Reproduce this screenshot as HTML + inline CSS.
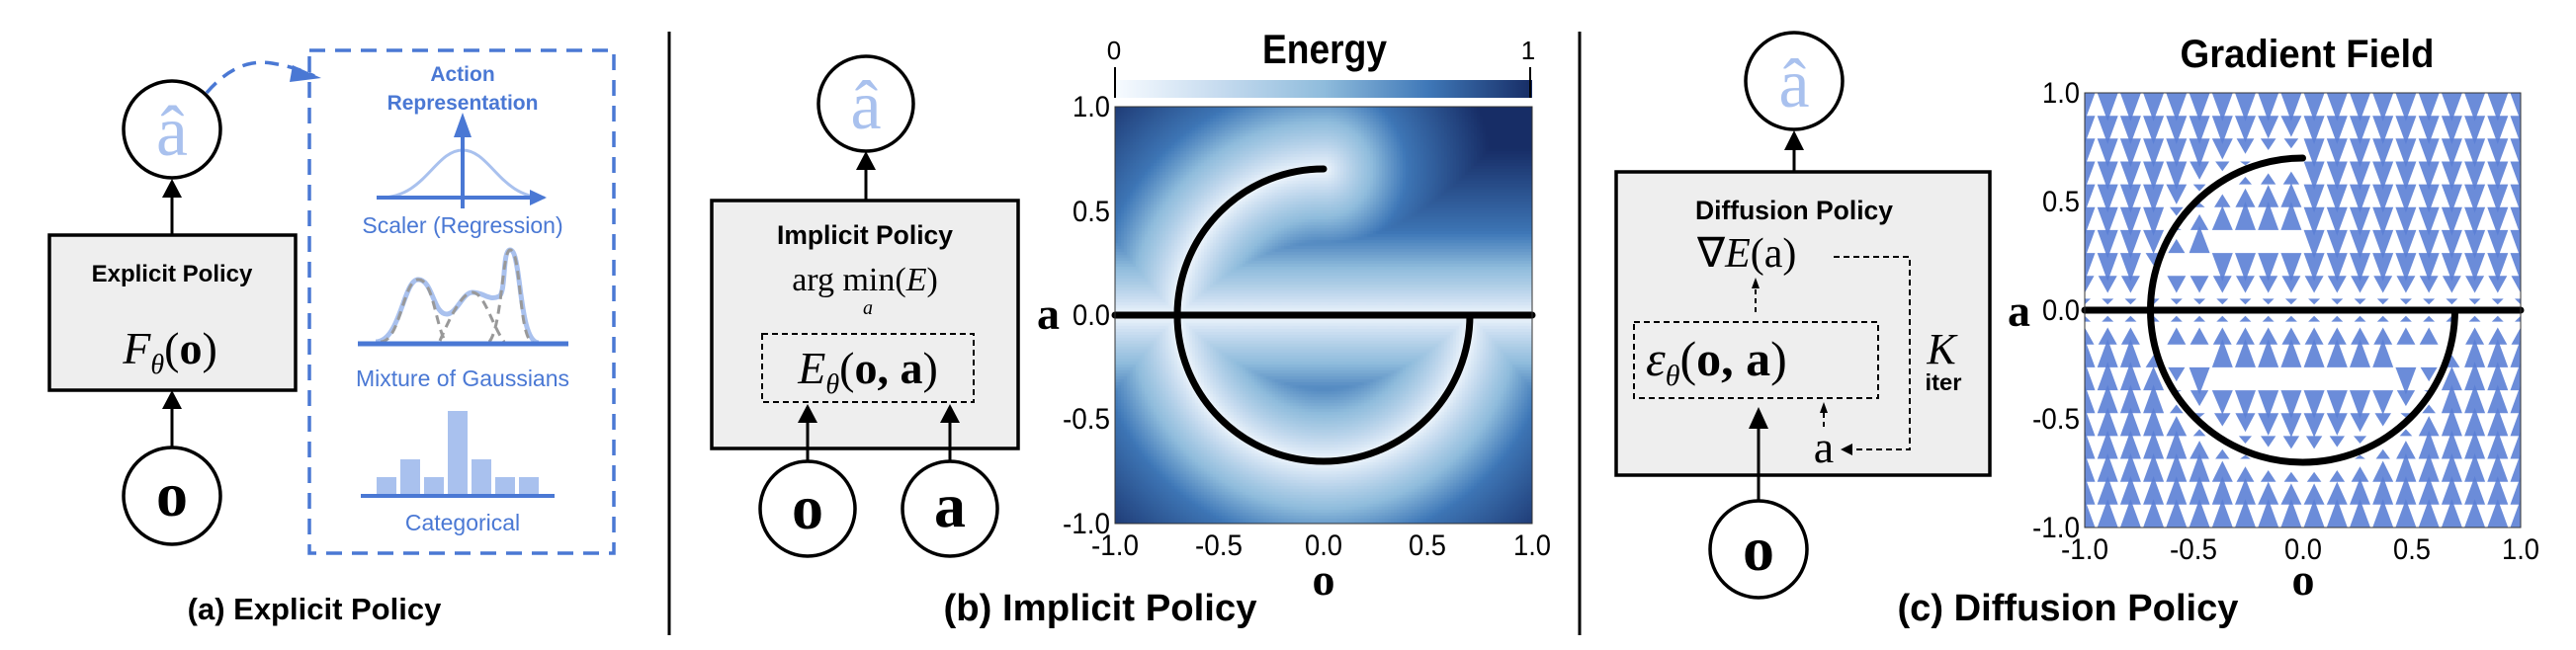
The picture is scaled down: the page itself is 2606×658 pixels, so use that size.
<!DOCTYPE html>
<html><head><meta charset="utf-8"><style>
html,body{margin:0;padding:0;background:#fff;width:2606px;height:658px;overflow:hidden}
#wrap{position:relative;width:2606px;height:658px}
svg{position:absolute;left:0;top:0}
canvas{position:absolute}
.sans{font-family:"Liberation Sans",sans-serif}
.nar{font-family:"Liberation Sans Narrow","Liberation Sans",sans-serif}
.ser{font-family:"Liberation Serif",serif}
</style></head><body><div id="wrap">
<canvas id="hm" width="422" height="422" style="left:1128px;top:108px"></canvas>
<svg id="s" width="2606" height="658" viewBox="0 0 2606 658" xmlns="http://www.w3.org/2000/svg">
<defs>
<linearGradient id="cb" x1="0" x2="1" y1="0" y2="0">
<stop offset="0" stop-color="#f7fbff"/><stop offset="0.25" stop-color="#c6dbef"/><stop offset="0.5" stop-color="#8fbcdc"/><stop offset="0.75" stop-color="#3f78b8"/><stop offset="1" stop-color="#172d66"/>
</linearGradient>
<clipPath id="gc"><rect x="2109" y="94" width="441" height="440"/></clipPath>
</defs>

<line x1="677" y1="32" x2="677" y2="643" stroke="#000" stroke-width="3"/>
<line x1="1598" y1="32" x2="1598" y2="643" stroke="#000" stroke-width="3"/>

<!-- ===== Panel A ===== -->
<circle cx="174" cy="131" r="49" fill="#fff" stroke="#000" stroke-width="3.5"/>
<text x="174" y="157" text-anchor="middle" class="ser" font-size="72" fill="#a9c1ee">â</text>
<rect x="50" y="238" width="249" height="157" fill="#eeeeee" stroke="#000" stroke-width="3.5"/>
<text x="174" y="285" text-anchor="middle" class="sans" font-weight="bold" font-size="24">Explicit Policy</text>
<text x="172" y="368" text-anchor="middle" class="ser" font-size="46"><tspan font-style="italic">F</tspan><tspan font-style="italic" font-size="28" dy="10">θ</tspan><tspan dy="-10">(</tspan><tspan font-weight="bold">o</tspan>)</text>
<line x1="174" y1="238" x2="174" y2="196" stroke="#000" stroke-width="3"/>
<path d="M164,200 L174,181 L184,200z" fill="#000"/>
<line x1="174" y1="452" x2="174" y2="410" stroke="#000" stroke-width="3"/>
<path d="M164,414 L174,395 L184,414z" fill="#000"/>
<circle cx="174" cy="502" r="49" fill="#fff" stroke="#000" stroke-width="3.5"/>
<text x="174" y="522" text-anchor="middle" class="ser" font-weight="bold" font-size="64">o</text>
<rect x="313" y="51" width="308" height="509" fill="none" stroke="#4a78d4" stroke-width="3.5" stroke-dasharray="16,10"/>
<path d="M209,94 Q240,58 275,64 Q300,68 318,77" fill="none" stroke="#4a78d4" stroke-width="3.5" stroke-dasharray="14,9"/>
<path d="M296,66 L325,79 L293,83z" fill="#4a78d4"/>
<text x="468" y="82" text-anchor="middle" class="sans" font-weight="bold" font-size="21" fill="#4a78d4">Action</text>
<text x="468" y="111" text-anchor="middle" class="sans" font-weight="bold" font-size="21" fill="#4a78d4">Representation</text>
<path d="M385,200 C430,200 440,152 468,152 C496,152 506,200 551,200" fill="none" stroke="#a9c1ee" stroke-width="3"/>
<line x1="381" y1="200" x2="540" y2="200" stroke="#4a78d4" stroke-width="4"/>
<path d="M536,192 L553,200 L536,208z" fill="#4a78d4"/>
<line x1="468" y1="211" x2="468" y2="128" stroke="#4a78d4" stroke-width="4"/>
<path d="M459,139 L468,114 L477,139z" fill="#4a78d4"/>
<text x="468" y="236" text-anchor="middle" class="sans" font-size="23" fill="#4a78d4">Scaler (Regression)</text>
<path d="M380,346 C405,346 408,283 423,283 C438,283 438,318 452,318 C462,318 468,296 478,296 C490,296 494,305 505,300 C512,296 508,253 516,253 C528,253 524,346 545,347" fill="none" stroke="#a9c1ee" stroke-width="5"/>
<path d="M385,346 C405,346 408,283 423,283 C438,283 440,325 450,345" fill="none" stroke="#999" stroke-width="3" stroke-dasharray="9,6"/>
<path d="M445,345 C460,310 470,296 478,296 C490,296 498,330 510,346" fill="none" stroke="#999" stroke-width="3" stroke-dasharray="9,6"/>
<path d="M495,346 C508,330 508,253 516,253 C528,253 524,346 540,347" fill="none" stroke="#999" stroke-width="3" stroke-dasharray="9,6"/>
<line x1="362" y1="348" x2="575" y2="348" stroke="#4a78d4" stroke-width="5"/>
<text x="468" y="391" text-anchor="middle" class="sans" font-size="23" fill="#4a78d4">Mixture of Gaussians</text>
<g fill="#a9c1ee">
<rect x="381" y="483" width="20" height="19"/><rect x="405" y="465" width="20" height="37"/><rect x="429" y="483" width="20" height="19"/><rect x="453" y="416" width="20" height="86"/><rect x="477" y="465" width="20" height="37"/><rect x="501" y="483" width="20" height="19"/><rect x="525" y="483" width="20" height="19"/>
</g>
<line x1="365" y1="502" x2="561" y2="502" stroke="#4a78d4" stroke-width="4"/>
<text x="468" y="537" text-anchor="middle" class="sans" font-size="23" fill="#4a78d4">Categorical</text>
<text x="318" y="627" text-anchor="middle" class="sans" font-weight="bold" font-size="31">(a) Explicit Policy</text>

<!-- ===== Panel B ===== -->
<circle cx="876" cy="105" r="48" fill="#fff" stroke="#000" stroke-width="3.5"/>
<text x="876" y="130" text-anchor="middle" class="ser" font-size="70" fill="#a9c1ee">â</text>
<line x1="876" y1="203" x2="876" y2="170" stroke="#000" stroke-width="3"/>
<path d="M866,172 L876,153 L886,172z" fill="#000"/>
<rect x="720" y="203" width="310" height="251" fill="#eeeeee" stroke="#000" stroke-width="3.5"/>
<text x="875" y="247" text-anchor="middle" class="nar" font-weight="bold" font-size="27" data-w="178">Implicit Policy</text>
<text x="875" y="294" text-anchor="middle" class="ser" font-size="34">arg min(<tspan font-style="italic">E</tspan>)</text>
<text x="878" y="318" text-anchor="middle" class="ser" font-style="italic" font-size="20">a</text>
<rect x="771" y="338" width="214" height="69" fill="none" stroke="#000" stroke-width="2" stroke-dasharray="6,4"/>
<text x="878" y="388" text-anchor="middle" class="ser" font-size="46"><tspan font-style="italic">E</tspan><tspan font-style="italic" font-size="28" dy="10">θ</tspan><tspan dy="-10">(</tspan><tspan font-weight="bold">o, a</tspan>)</text>
<line x1="817" y1="466" x2="817" y2="428" stroke="#000" stroke-width="3"/>
<path d="M807,428 L817,409 L827,428z" fill="#000"/>
<line x1="961" y1="466" x2="961" y2="428" stroke="#000" stroke-width="3"/>
<path d="M951,428 L961,409 L971,428z" fill="#000"/>
<circle cx="817" cy="515" r="48" fill="#fff" stroke="#000" stroke-width="3.5"/>
<text x="817" y="535" text-anchor="middle" class="ser" font-weight="bold" font-size="64">o</text>
<circle cx="961" cy="515" r="48" fill="#fff" stroke="#000" stroke-width="3.5"/>
<text x="961" y="533" text-anchor="middle" class="ser" font-weight="bold" font-size="64">a</text>
<rect x="1128" y="81" width="422" height="18" fill="url(#cb)"/>
<line x1="1128" y1="68" x2="1128" y2="99" stroke="#000" stroke-width="2"/>
<line x1="1548" y1="68" x2="1548" y2="99" stroke="#000" stroke-width="2"/>
<text x="1127" y="60" text-anchor="middle" class="nar" font-size="26">0</text>
<text x="1546" y="60" text-anchor="middle" class="nar" font-size="26">1</text>
<text x="1340" y="64" text-anchor="middle" class="nar" font-weight="bold" font-size="42" data-w="126">Energy</text>
<g fill="none" stroke="#000" stroke-width="7" stroke-linecap="round">
<line x1="1128" y1="319" x2="1550" y2="319"/>
<path d="M1339,171 A148,148 0 0,0 1191,319 A148,148 0 0,0 1487,319"/>
</g>
<rect x="1128" y="108" width="422" height="422" fill="none" stroke="#333" stroke-width="1"/>
<g class="nar" font-size="30" text-anchor="end">
<text x="1123" y="118" data-w="38">1.0</text><text x="1123" y="224" data-w="38">0.5</text><text x="1123" y="329" data-w="38">0.0</text><text x="1123" y="434" data-w="48">-0.5</text><text x="1123" y="540" data-w="48">-1.0</text>
</g>
<g class="nar" font-size="30" text-anchor="middle">
<text x="1128" y="562" data-w="48">-1.0</text><text x="1233" y="562" data-w="48">-0.5</text><text x="1339" y="562" data-w="38">0.0</text><text x="1444" y="562" data-w="38">0.5</text><text x="1550" y="562" data-w="38">1.0</text>
</g>
<text x="1072" y="333" text-anchor="end" class="ser" font-weight="bold" font-size="46">a</text>
<text x="1339" y="602" text-anchor="middle" class="ser" font-weight="bold" font-size="46">o</text>
<text x="1113" y="628" text-anchor="middle" class="nar" font-weight="bold" font-size="38" data-w="317">(b) Implicit Policy</text>

<!-- ===== Panel C ===== -->
<circle cx="1815" cy="82" r="49" fill="#fff" stroke="#000" stroke-width="3.5"/>
<text x="1815" y="108" text-anchor="middle" class="ser" font-size="70" fill="#a9c1ee">â</text>
<line x1="1815" y1="174" x2="1815" y2="150" stroke="#000" stroke-width="3"/>
<path d="M1805,152 L1815,132 L1825,152z" fill="#000"/>
<rect x="1635" y="174" width="378" height="307" fill="#eeeeee" stroke="#000" stroke-width="3.5"/>
<text x="1815" y="222" text-anchor="middle" class="nar" font-weight="bold" font-size="27" data-w="200">Diffusion Policy</text>
<text x="1717" y="270" class="ser" font-size="42">∇<tspan font-style="italic">E</tspan>(a)</text>
<path d="M1855,260 L1932,260 L1932,455 L1872,455" fill="none" stroke="#000" stroke-width="2" stroke-dasharray="6,4"/>
<path d="M1874,449 L1862,455 L1874,461z" fill="#000"/>
<line x1="1776" y1="316" x2="1776" y2="290" stroke="#000" stroke-width="2" stroke-dasharray="5,4"/>
<path d="M1772,292 L1776,281 L1780,292z" fill="#000"/>
<rect x="1653" y="326" width="247" height="77" fill="none" stroke="#000" stroke-width="2" stroke-dasharray="6,4"/>
<text x="1665" y="380" class="ser" font-size="50"><tspan font-style="italic">ε</tspan><tspan font-style="italic" font-size="30" dy="10">θ</tspan><tspan dy="-10">(</tspan><tspan font-weight="bold">o, a</tspan>)</text>
<text x="1964" y="368" text-anchor="middle" class="ser" font-style="italic" font-size="44">K</text>
<text x="1966" y="395" text-anchor="middle" class="nar" font-weight="bold" font-size="23" data-w="37">iter</text>
<text x="1845" y="468" text-anchor="middle" class="ser" font-size="46">a</text>
<line x1="1845" y1="432" x2="1845" y2="416" stroke="#000" stroke-width="2" stroke-dasharray="5,4"/>
<path d="M1841,418 L1845,407 L1849,418z" fill="#000"/>
<line x1="1779" y1="507" x2="1779" y2="430" stroke="#000" stroke-width="3"/>
<path d="M1769,434 L1779,412 L1789,434z" fill="#000"/>
<circle cx="1779" cy="556" r="49" fill="#fff" stroke="#000" stroke-width="3.5"/>
<text x="1779" y="577" text-anchor="middle" class="ser" font-weight="bold" font-size="64">o</text>
<text x="2334" y="68" text-anchor="middle" class="nar" font-weight="bold" font-size="40" data-w="257">Gradient Field</text>
<g id="quiv" clip-path="url(#gc)" fill="#5b7fd5" fill-opacity="0.9"></g>
<g fill="none" stroke="#000" stroke-width="7" stroke-linecap="round">
<line x1="2109" y1="314" x2="2550" y2="314"/>
<path d="M2329.5,160 A154,154 0 0,0 2175.5,314 A154,154 0 0,0 2483.5,314"/>
</g>
<rect x="2109" y="94" width="441" height="440" fill="none" stroke="#333" stroke-width="1"/>
<g class="nar" font-size="30" text-anchor="end">
<text x="2104" y="104" data-w="38">1.0</text><text x="2104" y="214" data-w="38">0.5</text><text x="2104" y="324" data-w="38">0.0</text><text x="2104" y="434" data-w="48">-0.5</text><text x="2104" y="544" data-w="48">-1.0</text>
</g>
<g class="nar" font-size="30" text-anchor="middle">
<text x="2109" y="566" data-w="48">-1.0</text><text x="2219" y="566" data-w="48">-0.5</text><text x="2330" y="566" data-w="38">0.0</text><text x="2440" y="566" data-w="38">0.5</text><text x="2550" y="566" data-w="38">1.0</text>
</g>
<text x="2054" y="330" text-anchor="end" class="ser" font-weight="bold" font-size="46">a</text>
<text x="2330" y="602" text-anchor="middle" class="ser" font-weight="bold" font-size="46">o</text>
<text x="2092" y="628" text-anchor="middle" class="nar" font-weight="bold" font-size="38" data-w="345">(c) Diffusion Policy</text>
</svg>
</div>
<script>
(function(){
var ts=document.querySelectorAll('text[data-w]');
for(var i=0;i<ts.length;i++){ts[i].setAttribute('textLength',ts[i].getAttribute('data-w'));ts[i].setAttribute('lengthAdjust','spacingAndGlyphs');}
var P=[];
for(var i=0;i<=400;i++){P.push([-1+2*i/400,0]);}
for(var i=0;i<=300;i++){var t=Math.PI/2+Math.PI*1.5*i/300;P.push([0.7*Math.cos(t),0.7*Math.sin(t)]);}
function near(x,y){var bd=1e9;for(var k=0;k<P.length;k++){var dx=P[k][0]-x,dy=P[k][1]-y,d=dx*dx+dy*dy;if(d<bd){bd=d;}}return Math.sqrt(bd);}
var c=document.getElementById('hm'),ctx=c.getContext('2d'),W=422,H=422,img=ctx.createImageData(W,H);
var stops=[[0,[247,251,255]],[0.25,[198,219,239]],[0.5,[143,188,220]],[0.75,[63,120,184]],[1,[23,45,102]]];
function cm(t){t=Math.max(0,Math.min(1,t));for(var s=1;s<stops.length;s++){if(t<=stops[s][0]){var a=stops[s-1],b=stops[s],f=(t-a[0])/(b[0]-a[0]);return [a[1][0]+(b[1][0]-a[1][0])*f,a[1][1]+(b[1][1]-a[1][1])*f,a[1][2]+(b[1][2]-a[1][2])*f];}}return stops[4][1];}
var step=3;
for(var py=0;py<H;py+=step){for(var px=0;px<W;px+=step){
 var x=-1+2*(px+1)/W,y=1-2*(py+1)/H;var d=near(x,y);
 var t=0.76*Math.pow(Math.min(1,d/0.4),0.75)+0.24*Math.max(0,Math.min(1,(d-0.4)/0.4));
 var col=cm(t);
 for(var yy=py;yy<Math.min(H,py+step);yy++)for(var xx=px;xx<Math.min(W,px+step);xx++){var o=(yy*W+xx)*4;img.data[o]=col[0];img.data[o+1]=col[1];img.data[o+2]=col[2];img.data[o+3]=255;}
}}
ctx.putImageData(img,0,0);
function curveA(x){var r=[0];if(Math.abs(x)<=0.7){var s=Math.sqrt(0.49-x*x);r.push(-s);if(x<=0)r.push(s);}return r;}
var g=document.getElementById('quiv'),s='';
var N=20;
for(var i=0;i<N;i++){for(var j=0;j<N;j++){
 var x=-1+2*i/(N-1),y=-1+2*j/(N-1);
 var cs=curveA(x),best=1e9,ba=0;for(var k=0;k<cs.length;k++){var dd=Math.abs(cs[k]-y);if(dd<best){best=dd;ba=cs[k];}}
 var dir=(ba>y)?-1:1;
 var m=Math.min(1.2,best/0.22); if(m<0.1)continue;
 var cx=2329.5+x*220.5,cy=314-y*220;
 var h=24*m,w=21*Math.min(1,0.4+m*0.7);
 var tip=cy+dir*h,base=cy;
 s+='<path d="M'+(cx-w/2).toFixed(1)+','+base.toFixed(1)+' L'+(cx+w/2).toFixed(1)+','+base.toFixed(1)+' L'+cx.toFixed(1)+','+tip.toFixed(1)+'z"/>';
}}
g.innerHTML=s;
})();
</script>
</body></html>
